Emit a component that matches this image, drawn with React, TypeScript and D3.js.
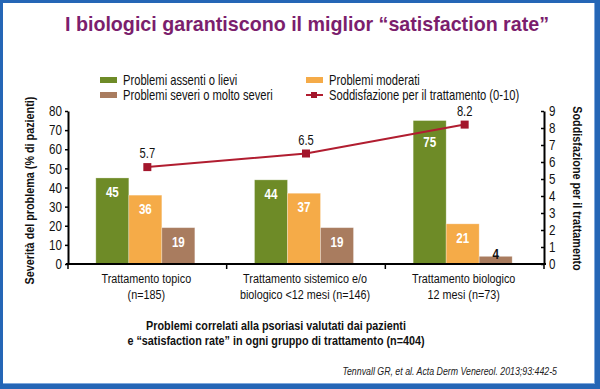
import React, { useEffect, useRef } from "react";
import * as d3 from "d3";

const categories = ["Trattamento topico", "Trattamento sistemico e/o", "Trattamento biologico"];
const categories2 = ["(n=185)", "biologico <12 mesi (n=146)", "12 mesi (n=73)"];
const seriesNames = ["Problemi assenti o lievi", "Problemi moderati", "Problemi severi o molto severi"];
const lievi = [45, 44, 75];
const moderati = [36, 37, 21];
const severi = [19, 19, 4];
const soddisfazione = [5.7, 6.5, 8.2];
const leftTicks = [0, 10, 20, 30, 40, 50, 60, 70, 80];
const rightTicks = [0, 1, 2, 3, 4, 5, 6, 7, 8, 9];

const colors = ["#6e8b27", "#f5ab48", "#a97c5f"];
const lineColor = "#b11d30";
const font = "'Liberation Sans', Arial, sans-serif";
const SX = 0.8; // font "condensato"

// testo schiacciato in orizzontale per imitare un font narrow
function txt(parent: any, x: number, y: number, s: string, o: any = {}) {
  const rot = o.rotate ? ` rotate(${o.rotate})` : "";
  return parent.append("text")
    .attr("transform", `translate(${x},${y})${rot} scale(${o.sx ?? SX},1)`)
    .attr("text-anchor", o.anchor || "start")
    .style("font-family", font)
    .style("font-size", (o.size || 13.5) + "px")
    .style("font-weight", o.bold ? "bold" : "normal")
    .style("font-style", o.italic ? "italic" : "normal")
    .attr("fill", o.fill || "#111")
    .text(s);
}

export default function App() {
  const ref = useRef<SVGSVGElement>(null);

  useEffect(() => {
    const svg = d3.select(ref.current);
    svg.selectAll("*").remove();

    // cornice
    svg.append("rect").attr("x", 0).attr("y", 0).attr("width", 600).attr("height", 389).attr("fill", "#2566b6");
    svg.append("rect").attr("x", 3).attr("y", 3).attr("width", 592).attr("height", 381).attr("fill", "#7fa8dc");
    svg.append("rect").attr("x", 3).attr("y", 3).attr("width", 591).attr("height", 380).attr("fill", "#fff");

    txt(svg, 307, 31, "I biologici garantiscono il miglior \u201csatisfaction rate\u201d",
      { anchor: "middle", bold: true, size: 20.5, sx: 0.96, fill: "#7b1e6d" });

    const left = 68, right = 544, top = 111, bottom = 264;

    const x = d3.scaleBand().domain(categories).range([left, right]);
    const y = d3.scaleLinear().domain([0, 80]).range([bottom, top]);
    const y2 = d3.scaleLinear().domain([0, 9]).range([bottom, top]);
    const barW = 33;
    const sub = d3.scaleBand().domain(seriesNames).range([0, barW * 3]);
    const offset = (x.bandwidth() - barW * 3) / 2 - 2;

    const series = [lievi, moderati, severi];
    const g = svg.append("g");
    series.forEach((vals, si) => {
      categories.forEach((c, i) => {
        const bx = (x(c) as number) + offset + (sub(seriesNames[si]) as number);
        const v = vals[i];
        g.append("rect")
          .attr("x", bx).attr("y", y(v))
          .attr("width", barW).attr("height", bottom - y(v))
          .attr("fill", colors[si])
          .attr("stroke", "rgba(255,255,255,0.35)").attr("stroke-width", 0.8);
        const small = bottom - y(v) < 20;
        const ly = small ? y(v) + 3 : y(v) + (v > 60 ? 26 : 19);
        txt(g, bx + barW / 2, ly, String(v),
          { anchor: "middle", bold: true, size: 14.5, fill: small ? "#111" : "#fff" });
      });
    });

    // assi
    const axisStyle = (sel: any) => {
      sel.selectAll("path").attr("stroke", "#000").attr("stroke-width", 2);
      sel.selectAll("line").attr("stroke", "#000").attr("stroke-width", 1.5);
      sel.selectAll("text").style("font-family", font).style("font-size", "14.5px").attr("fill", "#111");
    };
    const ax = svg.append("g").attr("transform", `translate(${left},0)`)
      .call(d3.axisLeft(y).tickValues(leftTicks).tickSize(3).tickSizeOuter(0).tickPadding(3));
    axisStyle(ax);
    ax.selectAll(".tick text").attr("transform", `translate(-6,0) scale(${SX},1)`).attr("x", 0);
    const ax2 = svg.append("g").attr("transform", `translate(${right},0)`)
      .call(d3.axisRight(y2).tickValues(rightTicks).tickSize(3).tickSizeOuter(0).tickPadding(3));
    axisStyle(ax2);
    ax2.selectAll(".tick line").attr("x1", -3).attr("x2", 0);
    ax2.selectAll(".tick text").attr("transform", `translate(5,0) scale(${SX},1)`).attr("x", 0);

    const xa = svg.append("g").attr("transform", `translate(0,${bottom})`);
    xa.append("line").attr("x1", left - 2).attr("x2", right + 2).attr("y1", 0).attr("y2", 0).attr("stroke", "#000").attr("stroke-width", 2);
    const edges = [left, ...categories.map((c) => (x(c) as number) + x.bandwidth())];
    edges.forEach((e) => {
      xa.append("line").attr("x1", e).attr("x2", e).attr("y1", 0).attr("y2", 5).attr("stroke", "#000").attr("stroke-width", 1.5);
    });
    categories.forEach((c, i) => {
      const cx = (x(c) as number) + x.bandwidth() / 2 - 1;
      txt(xa, cx, 19, c, { anchor: "middle", size: 13.5 });
      txt(xa, cx, 35, categories2[i], { anchor: "middle", size: 13.5 });
    });

    // titoli assi
    txt(svg, 34, (top + bottom) / 2 + 3, "Severit\u00e0 del problema (% di pazienti)",
      { anchor: "middle", bold: true, size: 13.5, rotate: -90 });
    txt(svg, 573, (top + bottom) / 2 + 1, "Soddisfazione per il trattamento",
      { anchor: "middle", bold: true, size: 13.5, rotate: 90 });

    // linea soddisfazione
    const cxs = categories.map((c) => (x(c) as number) + x.bandwidth() / 2);
    const line = d3.line<number>().x((_, i) => cxs[i]).y((d) => y2(d));
    svg.append("path").datum(soddisfazione).attr("d", line).attr("fill", "none")
      .attr("stroke", lineColor).attr("stroke-width", 2);
    soddisfazione.forEach((v, i) => {
      svg.append("rect").attr("x", cxs[i] - 4).attr("y", y2(v) - 4).attr("width", 8).attr("height", 8).attr("fill", "#a3162c");
      txt(svg, cxs[i], y2(v) - 9, v.toFixed(1), { anchor: "middle", size: 14 });
    });

    // legenda
    const leg = [
      { x: 100, y: 80, i: 0 },
      { x: 306, y: 80, i: 1 },
      { x: 100, y: 95, i: 2 },
    ];
    leg.forEach((l) => {
      svg.append("rect").attr("x", l.x).attr("y", l.y - 3).attr("width", 17).attr("height", 6).attr("fill", colors[l.i]);
      txt(svg, l.x + 23, l.y + 5, seriesNames[l.i], { size: 14 });
    });
    svg.append("line").attr("x1", 306).attr("x2", 323).attr("y1", 95).attr("y2", 95).attr("stroke", lineColor).attr("stroke-width", 2);
    svg.append("rect").attr("x", 311).attr("y", 92).attr("width", 6).attr("height", 6).attr("fill", "#a3162c");
    txt(svg, 329, 100, "Soddisfazione per il trattamento (0-10)", { size: 14 });

    // didascalia
    txt(svg, 276, 330, "Problemi correlati alla psoriasi valutati dai pazienti", { anchor: "middle", bold: true, size: 13.5 });
    txt(svg, 276, 345, "e \u201csatisfaction rate\u201d in ogni gruppo di trattamento  (n=404)", { anchor: "middle", bold: true, size: 13.5 });

    txt(svg, 557, 375, "Tennvall GR, et al. Acta Derm Venereol. 2013;93:442-5", { anchor: "end", italic: true, size: 11, fill: "#222" });
  }, []);

  return (
    <svg ref={ref} width={600} height={389} style={{ position: "absolute", left: 0, top: 0 }} />
  );
}
